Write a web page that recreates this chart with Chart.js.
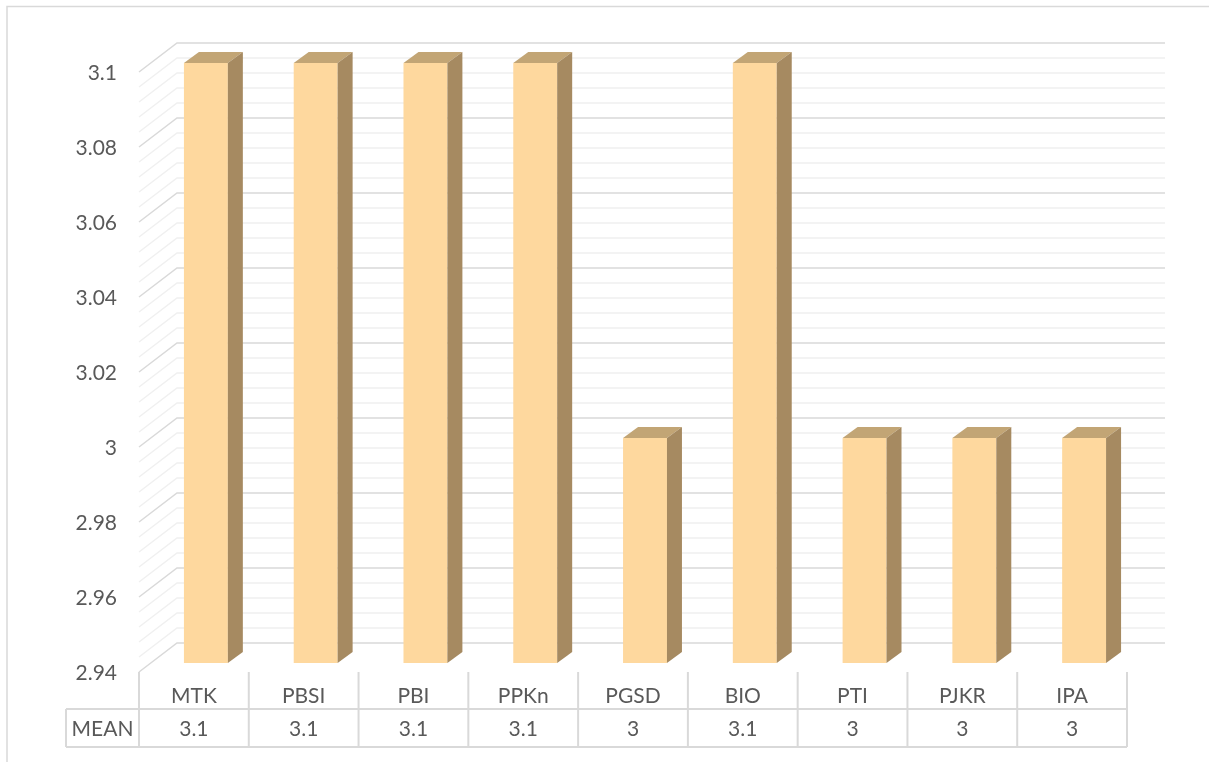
<!DOCTYPE html>
<html>
<head>
<meta charset="utf-8">
<script src="https://cdn.jsdelivr.net/npm/chart.js@4.4.1/dist/chart.umd.min.js"></script>
<style>
  html, body { margin: 0; padding: 0; background: #fff; }
</style>
</head>
<body>
<canvas id="meanChart" width="1209" height="762"></canvas>
<script>
// data
var categories = ['MTK', 'PBSI', 'PBI', 'PPKn', 'PGSD', 'BIO', 'PTI', 'PJKR', 'IPA'];
var meanValues = [3.1, 3.1, 3.1, 3.1, 3.0, 3.1, 3.0, 3.0, 3.0];
var meanLabels = ['3.1', '3.1', '3.1', '3.1', '3', '3.1', '3', '3', '3'];
var seriesName = 'MEAN';
var yTicks = [2.94, 2.96, 2.98, 3.0, 3.02, 3.04, 3.06, 3.08, 3.1];

var FONT = '21px Lato';
var TEXT = '#595959';
var FRONT = '#FED89E', SIDE = '#A68A61', TOP = '#C2A575';

// 3d offsets: floor front -> bar plane -> back wall
var SHIFT_X = 12, SHIFT_Y = 9;     // front edge sits this far left/down of bar plane
var WALL_X = 26, WALL_Y = 20;      // back wall sits this far right/up of bar plane
var BAR_DX = 15, BAR_DY = 11;      // bar depth

var excel3d = {
    id: 'excel3d',
    beforeDatasetsDraw: function(chart) {
        var ctx = chart.ctx, y = chart.scales.y, a = chart.chartArea;
        var fx = a.left - SHIFT_X, bx = a.left + WALL_X, rx = a.right + WALL_X;
        ctx.save();
        // frame (only top and left edge are in the picture)
        ctx.strokeStyle = '#D9D9D9';
        ctx.lineWidth = 1.5;
        ctx.beginPath();
        ctx.moveTo(7, 762); ctx.lineTo(7, 6.5); ctx.lineTo(1209, 6.5);
        ctx.stroke();

        // minor grid, every 1/5 of a major step
        var lo = yTicks[0], hi = yTicks[yTicks.length - 1];
        var step = (yTicks[1] - yTicks[0]) / 5;
        for (var i = 0; lo + i * step <= hi + 1e-9; i++) {
            if (i % 5 === 0) continue;
            var yp = y.getPixelForValue(lo + i * step);
            ctx.strokeStyle = '#F0F0F0';
            ctx.beginPath();
            ctx.moveTo(fx, yp + SHIFT_Y);
            ctx.lineTo(bx, yp - WALL_Y);
            ctx.lineTo(rx, yp - WALL_Y);
            ctx.stroke();
        }
        // major grid
        yTicks.forEach(function(v) {
            var yp = y.getPixelForValue(v);
            ctx.strokeStyle = '#D9D9D9';
            ctx.beginPath();
            ctx.moveTo(fx, yp + SHIFT_Y);
            ctx.lineTo(bx, yp - WALL_Y);
            ctx.lineTo(rx, yp - WALL_Y);
            ctx.stroke();
        });

        // y tick labels
        ctx.fillStyle = TEXT;
        ctx.font = FONT;
        ctx.textAlign = 'right';
        ctx.textBaseline = 'middle';
        yTicks.forEach(function(v) {
            ctx.fillText(String(+v.toFixed(2)), 117, y.getPixelForValue(v) + SHIFT_Y + 1);
        });
        ctx.restore();
    },
    afterDatasetsDraw: function(chart) {
        var ctx = chart.ctx;
        var x = chart.scales.x, y = chart.scales.y;
        var floor = y.getPixelForValue(yTicks[0]);
        var meta = chart.getDatasetMeta(0);
        ctx.save();
        meta.data.forEach(function(bar) {
            var p = bar.getProps(['x', 'y', 'width'], true);
            var x1 = p.x - p.width / 2, x2 = p.x + p.width / 2;
            ctx.fillStyle = TOP;
            ctx.beginPath();
            ctx.moveTo(x1, p.y);
            ctx.lineTo(x1 + BAR_DX, p.y - BAR_DY);
            ctx.lineTo(x2 + BAR_DX, p.y - BAR_DY);
            ctx.lineTo(x2, p.y);
            ctx.closePath();
            ctx.fill();
            ctx.fillStyle = SIDE;
            ctx.beginPath();
            ctx.moveTo(x2, p.y);
            ctx.lineTo(x2 + BAR_DX, p.y - BAR_DY);
            ctx.lineTo(x2 + BAR_DX, floor - BAR_DY);
            ctx.lineTo(x2, floor);
            ctx.closePath();
            ctx.fill();
        });

        // data table under the plot
        var half = (x.getPixelForValue(1) - x.getPixelForValue(0)) / 2;
        var left = x.getPixelForValue(0) - half - SHIFT_X;
        var right = x.getPixelForValue(categories.length - 1) + half - SHIFT_X;
        var top = floor + SHIFT_Y;
        var mid = 709, bottom = 747, labelLeft = 66;
        ctx.strokeStyle = '#D9D9D9';
        ctx.lineWidth = 2;
        ctx.beginPath();
        for (var i = 0; i <= categories.length; i++) {
            var cx = left + i * half * 2;
            ctx.moveTo(cx, top); ctx.lineTo(cx, bottom);
        }
        ctx.moveTo(labelLeft, mid); ctx.lineTo(right, mid);
        ctx.moveTo(labelLeft, bottom); ctx.lineTo(right, bottom);
        ctx.moveTo(labelLeft, mid); ctx.lineTo(labelLeft, bottom);
        ctx.stroke();

        ctx.fillStyle = TEXT;
        ctx.font = FONT;
        ctx.textAlign = 'center';
        ctx.textBaseline = 'middle';
        categories.forEach(function(c, i) {
            var cx = x.getPixelForValue(i) - SHIFT_X;
            ctx.fillText(c, cx, 696);
            ctx.fillText(meanLabels[i], cx, 729);
        });
        ctx.fillText(seriesName, (labelLeft + left) / 2, 729);
        ctx.restore();
    }
};

new Chart(document.getElementById('meanChart'), {
    type: 'bar',
    data: {
        labels: categories,
        datasets: [{
            label: seriesName,
            data: meanValues,
            backgroundColor: FRONT,
            borderWidth: 0,
            barPercentage: 1,
            categoryPercentage: 0.4
        }]
    },
    options: {
        responsive: false,
        animation: false,
        layout: { padding: { left: 151, right: 70, top: 63, bottom: 99 } },
        plugins: { legend: { display: false }, tooltip: { enabled: false } },
        scales: {
            x: { display: false },
            y: { display: false, min: 2.94, max: 3.1, ticks: { stepSize: 0.02 } }
        }
    },
    plugins: [excel3d]
});
</script>
</body>
</html>
